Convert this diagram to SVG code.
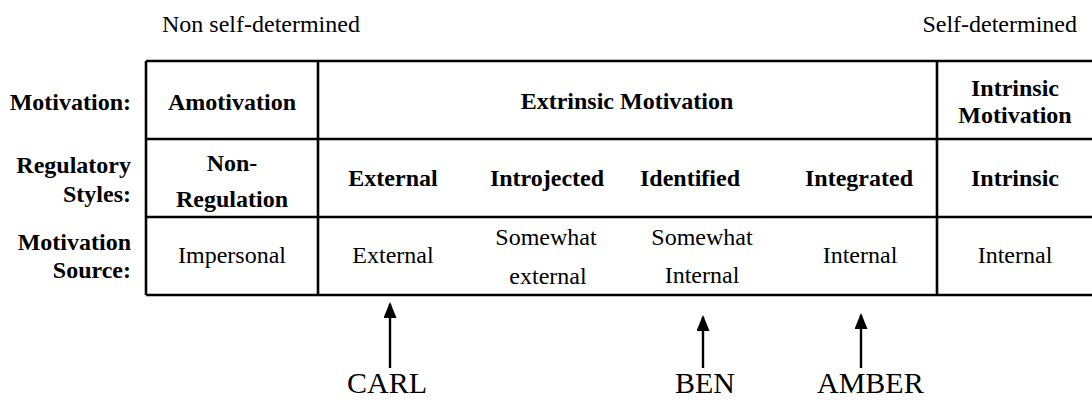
<svg xmlns="http://www.w3.org/2000/svg" width="1092" height="400" viewBox="0 0 1092 400">
<defs>
<style>
text{font-family:"Liberation Serif","Times New Roman",serif;font-size:24px;fill:#000}
.b{font-weight:bold}
.c{text-anchor:middle}
.r{text-anchor:end}
.nm{font-size:30px}
.grid{stroke:#000;stroke-width:2.6;fill:none}
.arr{stroke:#000;stroke-width:2.4;fill:none}
</style>
<marker id="ah" viewBox="0 0 16 13" markerWidth="16" markerHeight="13" refX="14" refY="6.5" orient="auto" markerUnits="userSpaceOnUse">
<path d="M0,0 L16,6.5 L0,13 Z" fill="#000"/>
</marker>
</defs>
<rect width="1092" height="400" fill="#fff"/>

<g id="scale-labels">
<text x="162" y="32">Non self-determined</text>
<text x="1077" y="32" class="r">Self-determined</text>
</g>

<g id="table-grid" class="grid">
<line x1="146" y1="61" x2="1092" y2="61"/>
<line x1="146" y1="139" x2="1092" y2="139"/>
<line x1="146" y1="217" x2="1092" y2="217"/>
<line x1="146" y1="295" x2="1092" y2="295"/>
<line x1="146" y1="61" x2="146" y2="295"/>
<line x1="318" y1="61" x2="318" y2="295"/>
<line x1="937" y1="61" x2="937" y2="295"/>
</g>

<g id="row-labels">
<text x="131" y="110" class="r b">Motivation:</text>
<text x="131" y="173" class="r b">Regulatory</text>
<text x="131" y="202" class="r b">Styles:</text>
<text x="131" y="250" class="r b">Motivation</text>
<text x="131" y="278" class="r b">Source:</text>
</g>

<g id="amotivation">
<text x="232" y="110" class="c b">Amotivation</text>
<text x="232" y="171" class="c b">Non-</text>
<text x="232" y="207" class="c b">Regulation</text>
<text x="232" y="263" class="c">Impersonal</text>
</g>

<g id="extrinsic">
<text x="627" y="109" class="c b">Extrinsic Motivation</text>
</g>

<g id="external">
<text x="393" y="186" class="c b">External</text>
<text x="393" y="263" class="c">External</text>
</g>

<g id="introjected">
<text x="547" y="186" class="c b">Introjected</text>
<text x="546" y="245" class="c">Somewhat</text>
<text x="548" y="284" class="c">external</text>
</g>

<g id="identified">
<text x="690" y="186" class="c b">Identified</text>
<text x="702" y="245" class="c">Somewhat</text>
<text x="702" y="283" class="c">Internal</text>
</g>

<g id="integrated">
<text x="859" y="186" class="c b">Integrated</text>
<text x="860" y="263" class="c">Internal</text>
</g>

<g id="intrinsic">
<text x="1015" y="96" class="c b">Intrinsic</text>
<text x="1015" y="123" class="c b">Motivation</text>
<text x="1015" y="186" class="c b">Intrinsic</text>
<text x="1015" y="263" class="c">Internal</text>
</g>

<g id="carl"><text x="347" y="393" class="nm">CARL</text></g>
<g id="ben"><text x="675" y="393" class="nm">BEN</text></g>
<g id="amber"><text x="817" y="393" class="nm">AMBER</text></g>

<g id="connectors" class="arr">
<line x1="390" y1="368" x2="390" y2="304" marker-end="url(#ah)"/>
<line x1="703" y1="368" x2="703" y2="317" marker-end="url(#ah)"/>
<line x1="861" y1="368" x2="861" y2="315" marker-end="url(#ah)"/>
</g>
</svg>
